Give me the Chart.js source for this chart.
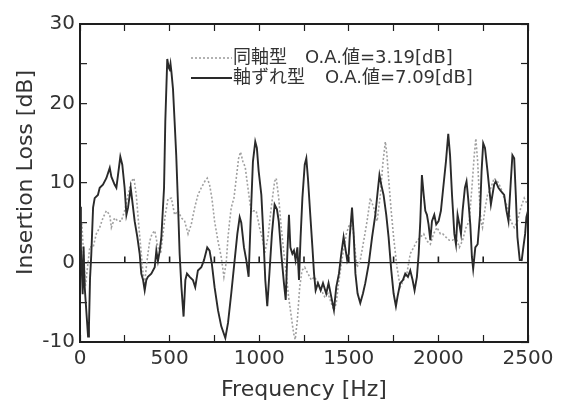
<!DOCTYPE html>
<html>
<head>
<meta charset="utf-8">
<script src="https://cdn.jsdelivr.net/npm/chart.js@4"></script>
<style>
  html, body { margin: 0; padding: 0; background: #fff; }
  canvas { display: block; }
</style>
</head>
<body>
<canvas id="chart_il" width="572" height="403"></canvas>
<script>
// 軸ずれ型 (solid)
var offsetFreq = [0, 5, 10, 15, 20, 26, 32, 38, 45, 50, 56, 63, 73, 82, 100, 110, 128, 147, 166, 175,
	193, 203, 212, 225, 236, 249, 259, 268, 283, 292, 305, 320, 333, 342, 352, 361, 370, 379, 398, 417,
	426, 435, 445, 454, 469, 476, 487, 495, 500, 505, 510, 519, 528, 537, 547, 556, 566, 578, 588, 597,
	612, 630, 643, 658, 677, 692, 710, 723, 736, 751, 770, 788, 811, 826, 844, 863, 878, 891, 900, 915,
	928, 941, 952, 965, 978, 987, 997, 1012, 1021, 1034, 1045, 1058, 1071, 1086, 1099, 1109, 1123, 1138, 1148, 1157,
	1166, 1174, 1185, 1194, 1203, 1213, 1222, 1231, 1241, 1254, 1263, 1272, 1285, 1297, 1306, 1315, 1328, 1343, 1356, 1374,
	1387, 1402, 1417, 1430, 1445, 1458, 1471, 1480, 1491, 1500, 1505, 1518, 1527, 1537, 1549, 1564, 1579, 1592, 1611, 1630,
	1648, 1661, 1671, 1681, 1694, 1709, 1722, 1737, 1750, 1763, 1772, 1787, 1802, 1815, 1830, 1843, 1856, 1867, 1880, 1890,
	1899, 1908, 1918, 1927, 1936, 1945, 1955, 1964, 1977, 1988, 2001, 2014, 2027, 2042, 2055, 2065, 2076, 2089, 2098, 2107,
	2117, 2126, 2135, 2148, 2157, 2166, 2178, 2187, 2194, 2206, 2219, 2232, 2241, 2250, 2260, 2274, 2293, 2311, 2320, 2335,
	2348, 2367, 2380, 2391, 2404, 2413, 2423, 2432, 2441, 2454, 2465, 2474, 2484, 2491, 2500];
var offsetLoss = [7, 2, -1, -4, 2, -3, -5, -7, -9.3, -8, -2, 1, 6.9, 8.1, 8.5, 9.4, 9.8, 10.6, 11.9, 10.8,
	9.8, 9.4, 11, 13.3, 12.3, 9.4, 6, 6.9, 9.4, 7.7, 5.2, 3.2, 1.1, -1.4, -2.2, -3.5, -2.2, -1.8, -1.4, -0.6,
	1.5, 0.2, 1.5, 3.2, 9.4, 17.7, 25.6, 24.5, 24.3, 25, 24, 21.8, 17.7, 13.5, 7.3, 1.1, -3.1, -6.8, -2.2, -1.4,
	-1.8, -2.2, -3.1, -1, -0.6, 0.3, 1.9, 1.5, -0.2, -3.1, -6, -8, -9.5, -7.6, -3.9, 0.3, 3.6, 5.7, 5, 1.9,
	0.3, -1.8, 5.2, 12.7, 15.2, 14.4, 11.5, 8.5, 4.5, -2.2, -5.5, -1, 3.6, 7.3, 6.7, 5.2, 1.1, -2.6, -4.7, 1.1,
	6, 1.9, 1.1, 1.5, 0.3, 1.9, -2.2, 3.2, 8.1, 12.3, 13.1, 10.6, 6, 1.9, -1.4, -3.5, -2.6, -3.5, -2.6, -3.9,
	-2.6, -4.3, -6, -3.1, -1.4, 1.1, 3.2, 1.9, 0.3, 1.1, 3.2, 6.9, 3.6, -1.4, -3.9, -5.1, -3.9, -2.6, -0.2, 3.2,
	6, 8.9, 11, 9.8, 8.5, 6, 3.2, -1, -3.9, -5.5, -4.3, -2.6, -2.2, -1.4, -1.8, -1, -2.2, -3.5, -1.8, 1.1,
	5.2, 11, 8.5, 6.5, 6, 4.8, 2.8, 5.2, 6, 4.8, 5.2, 6.5, 9.4, 12.7, 16.2, 13.5, 8.5, 3.6, 2.3, 6,
	4.8, 3.6, 6.5, 9.4, 10.2, 8.1, 4.8, 0.7, -0.8, 1.9, 2.3, 6, 11.5, 15, 14.4, 11.5, 7.3, 9.8, 10.2, 9.4,
	9, 8.5, 6.5, 5.2, 10.2, 13.5, 13.1, 8.5, 3.2, 0.3, 0.3, 1.9, 3.6, 5.7, 6.5];

// 同軸型 (dotted)
var coaxFreq = [0, 10, 20, 30, 40, 55, 73, 91, 110, 128, 147, 166, 175, 193, 212, 230, 249, 268, 286, 301,
	314, 329, 342, 352, 361, 370, 379, 389, 402, 417, 435, 450, 463, 476, 491, 510, 528, 547, 566, 584,
	603, 621, 640, 658, 677, 696, 710, 723, 736, 751, 770, 788, 803, 816, 826, 835, 844, 859, 872, 885,
	896, 909, 922, 937, 952, 965, 983, 1002, 1021, 1030, 1049, 1067, 1086, 1095, 1109, 1123, 1138, 1151, 1164, 1179,
	1192, 1201, 1213, 1226, 1239, 1254, 1272, 1291, 1309, 1328, 1347, 1365, 1384, 1402, 1417, 1430, 1443, 1458, 1473, 1486,
	1504, 1523, 1537, 1546, 1564, 1583, 1602, 1620, 1639, 1658, 1676, 1691, 1704, 1713, 1722, 1735, 1750, 1769, 1787, 1806,
	1824, 1843, 1862, 1880, 1899, 1918, 1936, 1955, 1973, 1992, 2011, 2024, 2042, 2061, 2079, 2098, 2117, 2135, 2154, 2172,
	2187, 2200, 2209, 2219, 2228, 2237, 2246, 2261, 2274, 2293, 2311, 2330, 2348, 2367, 2386, 2404, 2423, 2441, 2460, 2479, 2497];
var coaxLoss = [3, 5, 1, -3, -1, 2, 1.9, 3.6, 4.4, 5.6, 6.5, 6, 4.4, 5.6, 5.2, 5.2, 6.5, 8.5, 10.2, 10.6,
	8.5, 4.4, 1.1, -1.4, -2.6, -0.6, 1.1, 2.7, 3.6, 4, 1.9, 1.1, 3.6, 6, 8, 8.1, 6, 6.5, 5.6, 5.2,
	3.6, 4.8, 6.9, 8.5, 9.4, 10.2, 10.6, 9.8, 8.1, 5.2, 2.7, 0.7, -1.8, 0, 3.2, 5.2, 6.9, 8.1, 10.6, 13.1,
	13.9, 12.7, 12, 9.4, 6.9, 6.5, 6.5, 4.4, 2.7, 1.1, 3.2, 6.9, 10.2, 10.6, 8.1, 4.4, 1.1, -1.4, -4.3, -6.8,
	-8.9, -9.7, -7.2, -3.1, -1, -0.6, -1.4, -2.2, -1.8, -2.6, -3.5, -4.3, -3.9, -5.1, -6, -5.1, -2.6, -0.2, 1.9, 3.6,
	4.8, 4.4, 1.1, -0.6, 0.3, 2.7, 5.2, 8.1, 6.9, 5.2, 8.5, 12.7, 15.2, 13.5, 10.6, 6.9, 3.2, -0.6, -3.1, -2.2,
	-1.4, 1.1, 1.9, 2.7, 3.2, 3.6, 2.7, 2.3, 3.6, 4.4, 3.6, 3.6, 3.2, 2.8, 2.8, 3.2, 1.9, 2.8, 4.4, 5.2,
	9.4, 13.5, 15.6, 12.7, 8.5, 5.2, 4.4, 6.9, 8.5, 9.4, 10.6, 10.2, 9.4, 8.1, 6.9, 5.2, 4.4, 5.2, 6.9, 8.1, 7.3];

var legendNames = ['同軸型', '軸ずれ型'];
var legendValues = ['O.A.値=3.19[dB]', 'O.A.値=7.09[dB]'];

var xTicks = [0, 500, 1000, 1500, 2000, 2500];
var yTicks = [-10, 0, 10, 20, 30];

var FONT = "'DejaVu Sans', 'Noto Sans CJK JP', sans-serif";
var INK = '#1e1e1e';
var TICK_IN = -7; // 内向きの目盛り

function toPoints(xs, ys) {
	var pts = [];
	for (var i = 0; i < xs.length; i++) pts.push({ x: xs[i], y: ys[i] });
	return pts;
}

// 枠の辺 (目盛りのみ、ラベルなし)
function frameSide(pos, min, max, step) {
	return {
		type: 'linear',
		position: pos,
		min: min,
		max: max,
		afterFit: function (s) { if (pos === 'top') s.height = 0; else s.width = 0; },
		grid: { drawOnChartArea: false, drawTicks: true, tickLength: TICK_IN, tickColor: INK, tickWidth: 1.2 },
		border: { display: true, color: INK, width: 2 },
		ticks: { display: false, stepSize: step, autoSkip: false }
	};
}

// 凡例（グラフ内）と 0 dB 線上の目盛り
var legendPlugin = {
	id: 'innerLegend',
	afterDraw: function (chart) {
		var g = chart.ctx;
		var sx = chart.scales.x, sy = chart.scales.y;
		g.save();
		// 0 dB 線上の小さな目盛り
		var y0 = sy.getPixelForValue(0);
		g.strokeStyle = INK;
		g.lineWidth = 1.6;
		g.setLineDash([]);
		g.beginPath();
		sx.ticks.forEach(function (t) {
			if (t.value <= sx.min || t.value >= sx.max) return;
			var px = sx.getPixelForValue(t.value);
			g.moveTo(px, y0); g.lineTo(px, y0 - 6);
		});
		g.stroke();

		var rows = [
			{ y: 58, x2: 305, ds: chart.data.datasets[1] },
			{ y: 78, x2: 325, ds: chart.data.datasets[0] }
		];
		g.font = '18px ' + FONT;
		g.textBaseline = 'middle';
		g.fillStyle = '#333';
		rows.forEach(function (r, i) {
			g.strokeStyle = r.ds.borderColor;
			g.lineWidth = r.ds.borderWidth;
			g.setLineDash(r.ds.borderDash || []);
			g.beginPath();
			g.moveTo(191, r.y); g.lineTo(232, r.y);
			g.stroke();
			g.fillText(legendNames[i], 233, r.y);
			g.fillText(legendValues[i], r.x2, r.y);
		});
		g.restore();
	}
};

var chart = new Chart(document.getElementById('chart_il'), {
	type: 'line',
	data: {
		datasets: [{
			label: legendNames[1],
			data: toPoints(offsetFreq, offsetLoss),
			borderColor: '#2a2a2a',
			borderWidth: 1.9,
			pointRadius: 0,
			tension: 0
		}, {
			label: legendNames[0],
			data: toPoints(coaxFreq, coaxLoss),
			borderColor: '#a0a0a0',
			borderWidth: 1.6,
			borderDash: [2, 2],
			pointRadius: 0,
			tension: 0
		}]
	},
	options: {
		responsive: false,
		animation: false,
		devicePixelRatio: 1,
		layout: { padding: { left: 0, top: 21, right: 44, bottom: 0 } },
		plugins: { legend: { display: false }, tooltip: { enabled: false } },
		scales: {
			x: {
				type: 'linear',
				position: 'bottom',
				min: 0,
				max: 2500,
				afterFit: function (s) { s.height = 61; },
				grid: { drawOnChartArea: false, drawTicks: true, tickLength: TICK_IN, tickColor: INK, tickWidth: 1.2 },
				border: { display: true, color: INK, width: 2 },
				ticks: {
					stepSize: 250, padding: 12, color: '#333', font: { family: FONT, size: 20 }, maxRotation: 0, autoSkip: false,
					callback: function (v) { return xTicks.indexOf(v) >= 0 ? String(v) : ''; }
				},
				title: { display: true, text: 'Frequency [Hz]', color: '#333', font: { family: FONT, size: 22 }, padding: { top: 0, bottom: 0 } }
			},
			x2: frameSide('top', 0, 2500, 250),
			y: {
				position: 'left',
				min: -10,
				max: 30,
				afterFit: function (s) { s.width = 80; },
				grid: {
					drawTicks: true,
					tickLength: TICK_IN,
					tickColor: INK,
					tickWidth: 1.2,
					lineWidth: 1.3,
					color: function (c) { return c.tick && c.tick.value === 0 ? INK : 'rgba(0,0,0,0)'; }
				},
				border: { display: true, color: INK, width: 2 },
				ticks: {
					stepSize: 5, padding: 12, color: '#333', font: { family: FONT, size: 20 }, autoSkip: false,
					callback: function (v) { return yTicks.indexOf(v) >= 0 ? String(v) : ''; }
				},
				title: { display: true, text: '   Insertion Loss [dB]', color: '#333', font: { family: FONT, size: 22 }, padding: { top: 13, bottom: 0 } }
			},
			y2: frameSide('right', -10, 30, 5)
		}
	},
	plugins: [legendPlugin]
});
</script>
</body>
</html>
